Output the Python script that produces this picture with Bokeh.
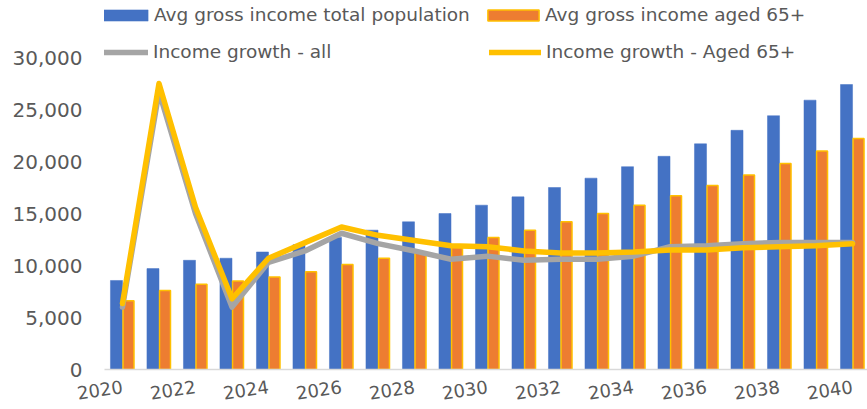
from bokeh.plotting import figure
from bokeh.models import Range1d, FixedTicker, Legend, LegendItem, ColumnDataSource, NumeralTickFormatter
from bokeh.transform import dodge
from bokeh.embed import file_html
from bokeh.resources import INLINE

years = list(range(2020, 2041))
avg_total = [8560, 9700, 10500, 10700, 11300, 12000, 12700, 13400, 14200, 15000, 15800,
             16600, 17500, 18400, 19500, 20500, 21700, 23000, 24400, 25900, 27400]
avg_65 = [6600, 7600, 8200, 8500, 8900, 9400, 10100, 10700, 11300, 12000, 12700,
          13400, 14200, 15000, 15800, 16700, 17700, 18700, 19800, 21000, 22200]
growth_all = [6000, 26700, 15000, 6000, 10300, 11400, 13100, 12100, 11400, 10600, 10900,
              10500, 10600, 10600, 10900, 11800, 11900, 12100, 12200, 12200, 12200]
growth_65 = [6350, 27500, 15600, 6800, 10700, 12200, 13700, 12900, 12400, 11900, 11800,
             11400, 11200, 11200, 11300, 11500, 11500, 11700, 11800, 11900, 12100]
x_ticks = [2020, 2022, 2024, 2026, 2028, 2030, 2032, 2034, 2036, 2038, 2040]
y_ticks = [0, 5000, 10000, 15000, 20000, 25000, 30000]
labels = ["Avg gross income total population", "Avg gross income aged 65+",
          "Income growth - all", "Income growth - Aged 65+"]

FONT = "DejaVu Sans"
TXT = "#595959"

src = ColumnDataSource(dict(year=years, total=avg_total, aged=avg_65, gall=growth_all, g65=growth_65))

p = figure(width=867, height=409, output_backend="svg", toolbar_location=None,
           x_range=Range1d(2019.507, 2040.41), y_range=Range1d(0, 35481),
           min_border_left=104, min_border_right=0, min_border_top=0, min_border_bottom=40)
p.outline_line_color = None
p.grid.visible = False

r_blue = p.vbar(x=dodge("year", -0.165, range=p.x_range), top="total", width=0.33, source=src,
                fill_color="#4472C4", line_color="#4472C4", line_width=0.5)
r_orange = p.vbar(x=dodge("year", 0.165, range=p.x_range), top="aged", width=0.30, source=src,
                  fill_color="#ED7D31", line_color="#FFC000", line_width=1.5)
r_gray = p.line("year", "gall", source=src, line_color="#A5A5A5", line_width=5.5,
                line_join="round", line_cap="round")
r_yellow = p.line("year", "g65", source=src, line_color="#FFC000", line_width=5.5,
                  line_join="round", line_cap="round")

p.yaxis.ticker = FixedTicker(ticks=y_ticks)
p.yaxis.formatter = NumeralTickFormatter(format="0,0")
p.yaxis.axis_line_color = None
p.yaxis.major_tick_line_color = None
p.yaxis.minor_tick_line_color = None
p.yaxis.major_tick_out = 0
p.yaxis.major_label_text_font = FONT
p.yaxis.major_label_text_font_size = "20px"
p.yaxis.major_label_text_color = TXT
p.yaxis.major_label_standoff = 22

p.xaxis.ticker = FixedTicker(ticks=x_ticks)
p.xaxis.axis_line_color = "#D9D9D9"
p.xaxis.axis_line_width = 1.5
p.xaxis.major_tick_line_color = None
p.xaxis.minor_tick_line_color = None
p.xaxis.major_tick_out = 0
p.xaxis.major_label_text_font = FONT
p.xaxis.major_label_text_font_size = "18px"
p.xaxis.major_label_text_color = TXT
p.xaxis.major_label_orientation = 0.15
p.xaxis.major_label_standoff = 17

LEG_FONT = "18.5px"
FH = 369  # expected frame height in px, used only to place the legends


def add_leg(renderer, label, x, center, gw, gh, standoff):
    leg = Legend(items=[LegendItem(label=label, renderers=[renderer])],
                 location=(x, FH - center - 10),
                 glyph_width=gw, glyph_height=gh, label_standoff=standoff, padding=0, margin=0,
                 spacing=0, border_line_color=None, background_fill_alpha=0,
                 label_text_font=FONT, label_text_font_size=LEG_FONT, label_text_color=TXT)
    p.add_layout(leg)


add_leg(r_blue, labels[0], -14, 15, 64, 14, 0)
add_leg(r_orange, labels[1], 377, 15, 64, 14, 0)
add_leg(r_gray, labels[2], -8, 52, 52, 14, 5)
add_leg(r_yellow, labels[3], 385, 52, 52, 14, 5)

open("out.html", "w").write(file_html(p, INLINE))
